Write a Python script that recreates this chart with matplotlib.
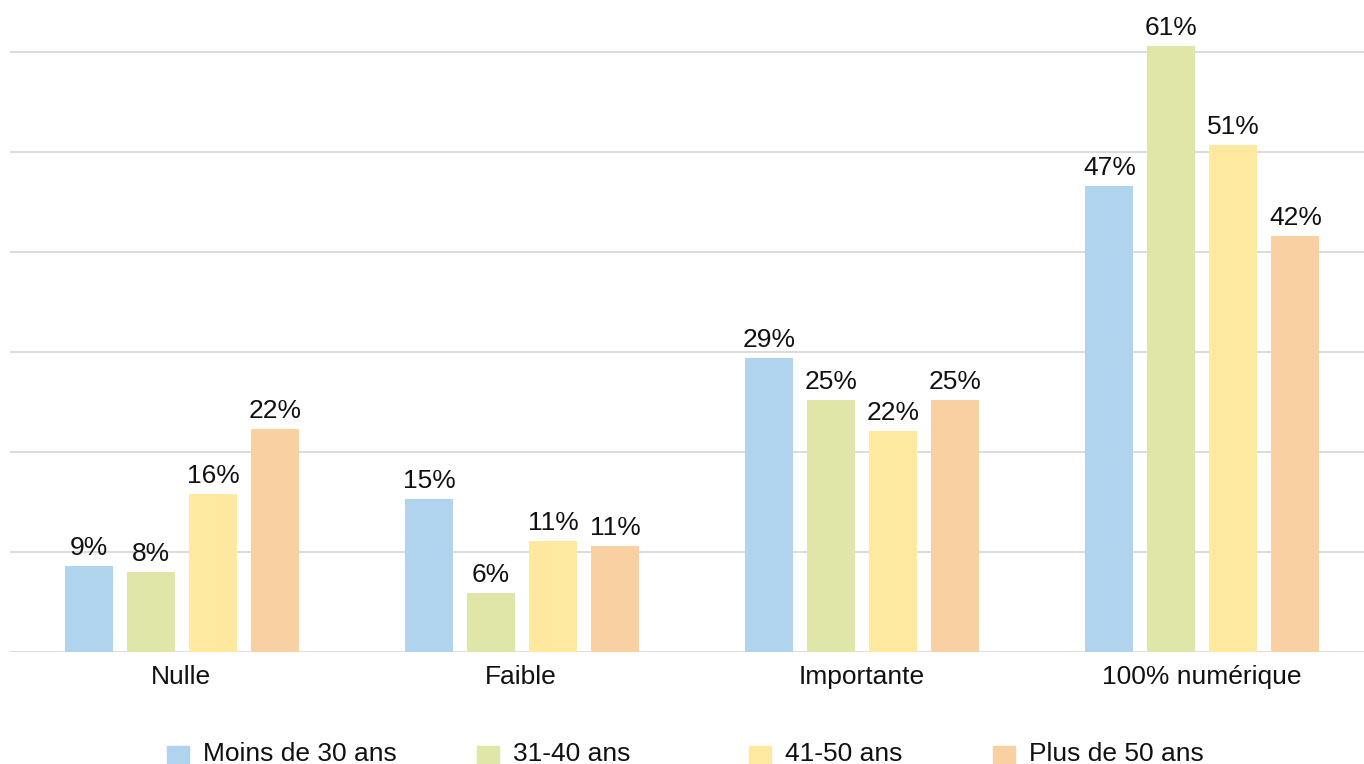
import numpy as np
import matplotlib
matplotlib.use("Agg")
import matplotlib.pyplot as plt
from matplotlib.patches import Rectangle

plt.rcParams['font.family'] = ['Liberation Sans', 'DejaVu Sans']

# Data
categories = ['Nulle', 'Faible', 'Importante', '100% numérique']
series = ['Moins de 30 ans', '31-40 ans', '41-50 ans', 'Plus de 50 ans']
moins_30 = [8.6, 15.3, 29.4, 46.6]
de_31_40 = [8.0, 5.9, 25.2, 60.6]
de_41_50 = [15.8, 11.1, 22.1, 50.7]
plus_50 = [22.3, 10.6, 25.2, 41.6]
values = [moins_30, de_31_40, de_41_50, plus_50]
colors = ['#b0d4ee', '#dfe6a7', '#fee99e', '#f9d0a2']

W, H = 1364, 764
FS = 19
fig = plt.figure(figsize=(W / 100, H / 100), dpi=100)
ax = fig.add_axes([10 / W, (H - 652) / H, 1 - 10 / W, 652 / H])

x = np.arange(len(categories))
width = 48 / 340
step = 62 / 340
for i, (vals, col) in enumerate(zip(values, colors)):
    pos = x + (i - 1.5) * step + 2 / 340
    bars = ax.bar(pos, vals, width, color=col, zorder=2, clip_on=False)
    for b, v in zip(bars, vals):
        ax.annotate('%d%%' % round(v), (b.get_x() + b.get_width() / 2, v),
                    xytext=(0, 7.9), textcoords='offset points',
                    ha='center', va='baseline', fontsize=FS, color='#111111')

ax.set_xlim(-0.5, (W - 180.5) / 340)
ax.set_ylim(0, 65.2)
for g in range(0, 70, 10):
    ax.axhline(g, color='#d9d9d9', lw=1.3, zorder=1)

ax.set_xticks(x + 1 / 340)
ax.set_xticklabels(categories, fontsize=FS, color='#111111')
ax.tick_params(axis='x', length=0, pad=9.5)
ax.set_yticks([])
for s in ax.spines.values():
    s.set_visible(False)

# legend laid out by hand, as in the reference
leg_x = [167, 477, 749, 993]
for lx, name, col in zip(leg_x, series, colors):
    fig.add_artist(Rectangle((lx / W, (H - 768) / H), 22 / W, 22 / H,
                             transform=fig.transFigure, color=col,
                             clip_on=False))
    fig.text((lx + 36) / W, (H - 761) / H, name, fontsize=FS,
             color='#111111', va='baseline', ha='left')

fig.savefig('out.png', dpi=100)
